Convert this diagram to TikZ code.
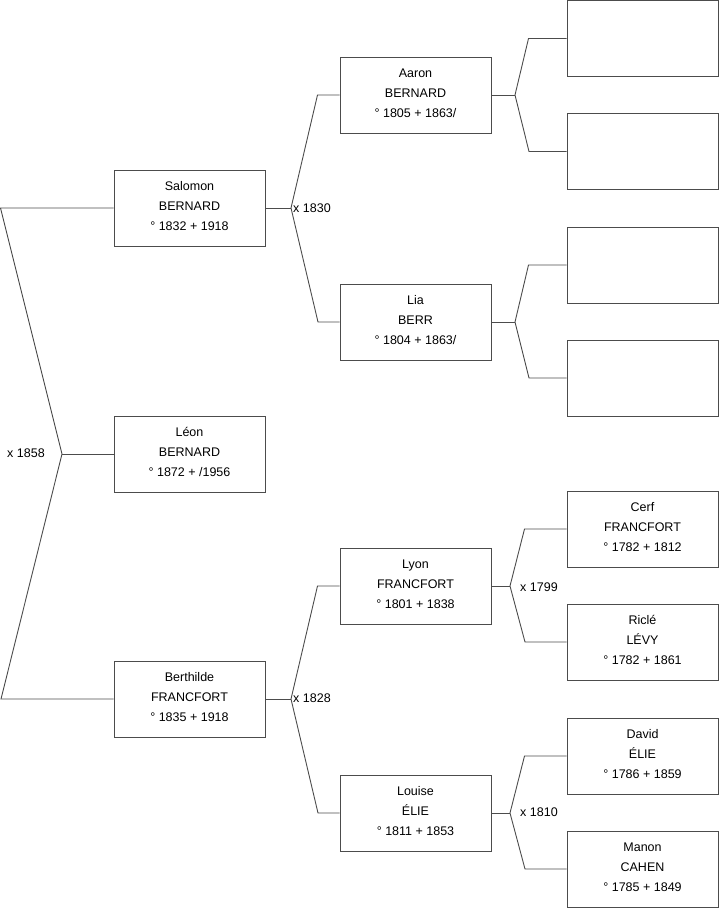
\documentclass[tikz,border=0pt]{standalone}
\usepackage{fontspec}
\setmainfont{Liberation Sans}
\definecolor{traitGris}{gray}{.3}

\begin{document}
\begin{tikzpicture}[x=1pt, y=-1pt,
	    block/.style={rectangle, draw=traitGris, line width=1pt, minimum width=151pt, minimum height=76pt, inner sep=0pt, text depth=4pt, align=center, font=\fontsize{12.5}{20}\selectfont},
	    line/.style={draw=traitGris, line width=0.9pt},
	    annee/.style={anchor=west, inner sep=0pt, font=\fontsize{12.5}{14}\selectfont}]
	    
	    \useasboundingbox (0,0) rectangle (719,908);
	    
	    % generation 1
	    \node [block] (salomon) at (189.5,208) {Salomon\\BERNARD\\° 1832 + 1918};
	    \node [block] (leon) at (189.5,454) {Léon\\BERNARD\\° 1872 + /1956};
	    \node [block] (berthilde) at (189.5,699) {Berthilde\\FRANCFORT\\° 1835 + 1918};
	    
	    % generation 2
	    \node [block] (aaron) at (415.5,95) {Aaron\\BERNARD\\° 1805 + 1863/};
	    \node [block] (lia) at (415.5,322) {Lia\\BERR\\° 1804 + 1863/};
	    \node [block] (lyon) at (415.5,586) {Lyon\\FRANCFORT\\° 1801 + 1838};
	    \node [block] (louise) at (415.5,813) {Louise\\ÉLIE\\° 1811 + 1853};
	    
	    % generation 3
	    \node [block] (vide1) at (642.5,38.5) {};
	    \node [block] (vide2) at (642.5,151.5) {};
	    \node [block] (vide3) at (642.5,265) {};
	    \node [block] (vide4) at (642.5,378) {};
	    \node [block] (cerf) at (642.5,529) {Cerf\\FRANCFORT\\° 1782 + 1812};
	    \node [block] (ricle) at (642.5,642) {Riclé\\LÉVY\\° 1782 + 1861};
	    \node [block] (david) at (642.5,756) {David\\ÉLIE\\° 1786 + 1859};
	    \node [block] (manon) at (642.5,869) {Manon\\CAHEN\\° 1785 + 1849};
	    
	    % unions
	    \coordinate (u1858) at (62,454);
	    \coordinate (u1830) at (291,208);
	    \coordinate (u1828) at (291,699);
	    \coordinate (uAaron) at (515,95);
	    \coordinate (uLia) at (515,322);
	    \coordinate (u1799) at (510,586);
	    \coordinate (u1810) at (510,813);
	    
	    \path [line] (salomon.west) -- ++(-113,0) -- (u1858) -- ++(-61,245) -- (berthilde.west);
	    \path [line] (u1858) -- (leon.west);
	    
	    \path [line] (salomon.east) -- (u1830);
	    \path [line] (aaron.west) -- ++(-22,0) -- (u1830) -- ++(27,114) -- (lia.west);
	    \path [line] (berthilde.east) -- (u1828);
	    \path [line] (lyon.west) -- ++(-22,0) -- (u1828) -- ++(27,114) -- (louise.west);
	    
	    \path [line] (aaron.east) -- (uAaron);
	    \path [line] (vide1.west) -- ++(-38,0) -- (uAaron) -- ++(14,56.5) -- (vide2.west);
	    \path [line] (lia.east) -- (uLia);
	    \path [line] (vide3.west) -- ++(-38,0) -- (uLia) -- ++(14,56) -- (vide4.west);
	    \path [line] (lyon.east) -- (u1799);
	    \path [line] (cerf.west) -- ++(-42,0) -- (u1799) -- ++(15,56) -- (ricle.west);
	    \path [line] (louise.east) -- (u1810);
	    \path [line] (david.west) -- ++(-42,0) -- (u1810) -- ++(15,56) -- (manon.west);
	    
	    \node [annee] (a1858) at (7,453) {x 1858};
	    \node [annee] (a1830) at (293,208) {x 1830};
	    \node [annee] (a1828) at (293,698) {x 1828};
	    \node [annee] (a1799) at (520,587) {x 1799};
	    \node [annee] (a1810) at (520,812) {x 1810};
	\end{tikzpicture}
\end{document}
